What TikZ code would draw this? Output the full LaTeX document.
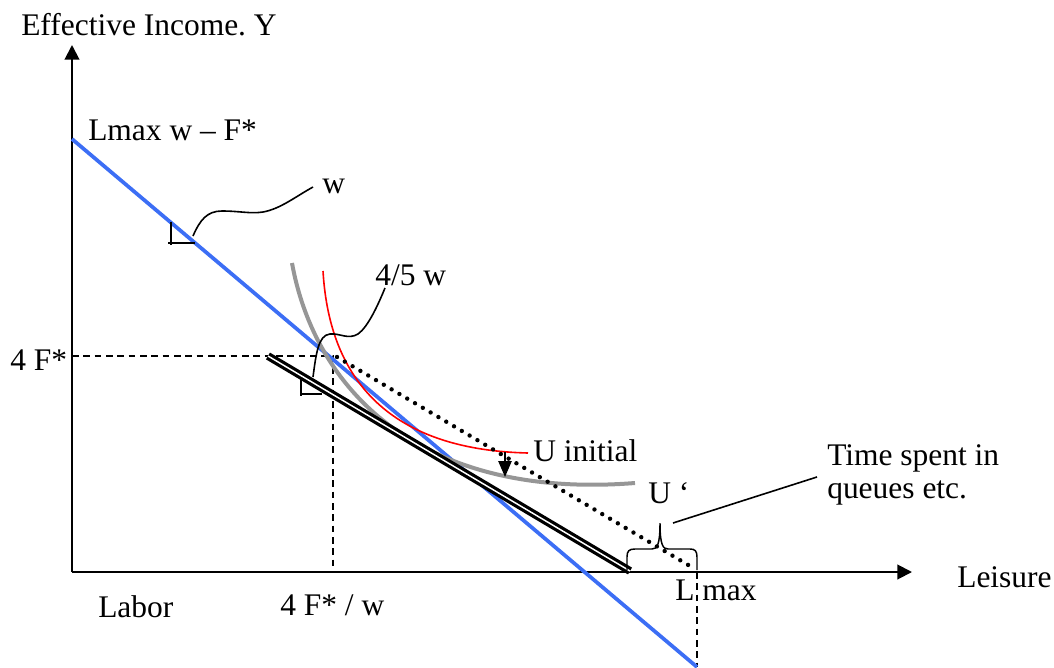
\documentclass[tikz,border=0pt]{standalone}
\usepackage{fontspec}
\setmainfont{Liberation Serif}
\usetikzlibrary{arrows.meta}
\definecolor{budgetblue}{RGB}{60,110,245}
\definecolor{ugray}{RGB}{150,150,150}
\frenchspacing
\begin{document}
\begin{tikzpicture}[x=0.75pt,y=-0.75pt,
  lbl/.style={inner sep=0pt,anchor=base west,font=\fontsize{23.6}{25}\selectfont},
  axisline/.style={line width=1.5pt,-{Triangle[length=11pt,width=11pt]}},
  guide/.style={line width=1.1pt,dash pattern=on 5pt off 3.5pt},
  budget/.style={line width=2.8pt,budgetblue},
  thin/.style={line width=1.2pt},
  dotline/.style={line width=3.3pt,line cap=round,dash pattern=on 0pt off 6.8pt},
  dbl/.style={double=white,double distance=1.1pt,line width=2.4pt}]
\useasboundingbox (0,0) rectangle (1054,668);
% coordinates
\coordinate (O) at (72,572);
\coordinate (ytip) at (72,45);
\coordinate (xtip) at (912,572);
\coordinate (b1) at (72,139);
\coordinate (b2) at (697,667);
\coordinate (f1) at (72,356);
\coordinate (f2) at (333,356);
\coordinate (f3) at (333,572);
\coordinate (l1) at (697,572);
\coordinate (l2) at (697,667);
\coordinate (d1) at (268,356);
\coordinate (d2) at (630,571);
\coordinate (p1) at (337,357);
\coordinate (p2) at (695,569);
\coordinate (a1) at (505,452);
\coordinate (a2) at (505,477);
\coordinate (tip) at (660,523);
\coordinate (tipL) at (673,523);
% axes
\draw[axisline] (O) -- (ytip);
\draw[axisline] (O) -- (xtip);
% guides
\draw[guide] (f1) -- (f2) -- (f3);
\draw[guide] (l1) -- (l2);
% blue budget line
\draw[budget] (b1) -- (b2);
% gray indifference curve U'
\draw[line width=3pt,ugray] (292,263) .. controls (315,390) and (420,500) .. (635,483);
% red indifference curve U initial
\draw[line width=1.2pt,red] (323,271) .. controls (330,390) and (400,450) .. (528,453);
% double black line
\draw[dbl] (d1) -- (d2);
% dotted line
\draw[dotline] (p1) -- (p2);
% arrow between curves
\draw[line width=1.2pt,-{Triangle[length=12pt,width=10pt]}] (a1) -- (a2);
% slope triangle w
\draw[line width=1.5pt] (171,222) -- (171,245);
\draw[line width=1.5pt] (168,243) -- (195,243);
\draw[thin] (193,236) .. controls (200,220) and (207,211) .. (222,211)
  .. controls (240,211) and (250,214) .. (263,212)
  .. controls (280,209) and (295,197) .. (313,187);
% slope triangle 4/5 w
\draw[line width=1.3pt] (301,378) -- (301,396);
\draw[line width=1.3pt] (300,394) -- (322,394);
\draw[thin] (313,377) .. controls (316,355) and (318,335) .. (330,334)
  .. controls (340,333) and (348,340) .. (358,334)
  .. controls (368,327) and (378,305) .. (385,288);
% brace
\draw[line width=1.1pt] (627,570) -- (627,557) .. controls (627,551) and (629,549) .. (635,549)
  -- (652,549) .. controls (657,549) and (660,545) .. (tip)
  .. controls (660,545) and (663,549) .. (668,549) -- (690,549)
  .. controls (695,549) and (697,551) .. (697,557) -- (697,570);
% labels
\node[lbl] (ylab) at (21,35) {Effective Income. Y};
\node[lbl] (inter) at (88,140) {Lmax w – F*};
\node[lbl] (wlab) at (322,193) {w};
\node[lbl] (w45) at (375,285) {4/5 w};
\node[lbl] (fstar) at (10,370) {4 F*};
\node[lbl] (uinit) at (533,461) {U initial};
\node[lbl] (uprime) at (648,503) {U ‘};
\node[lbl] (time1) at (827,465) {Time spent in};
\node[lbl] (time2) at (827,498) {queues etc.};
\node[lbl] (labor) at (98,617) {Labor};
\node[lbl] (fw) at (280,615) {4 F* / w};
\node[lbl] (lmax) at (675,600) {L max};
\node[lbl] (leis) at (957,587) {Leisure};
\coordinate (tend) at (817,477);
\draw[thin] (tipL) -- (tend);
\end{tikzpicture}
\end{document}
